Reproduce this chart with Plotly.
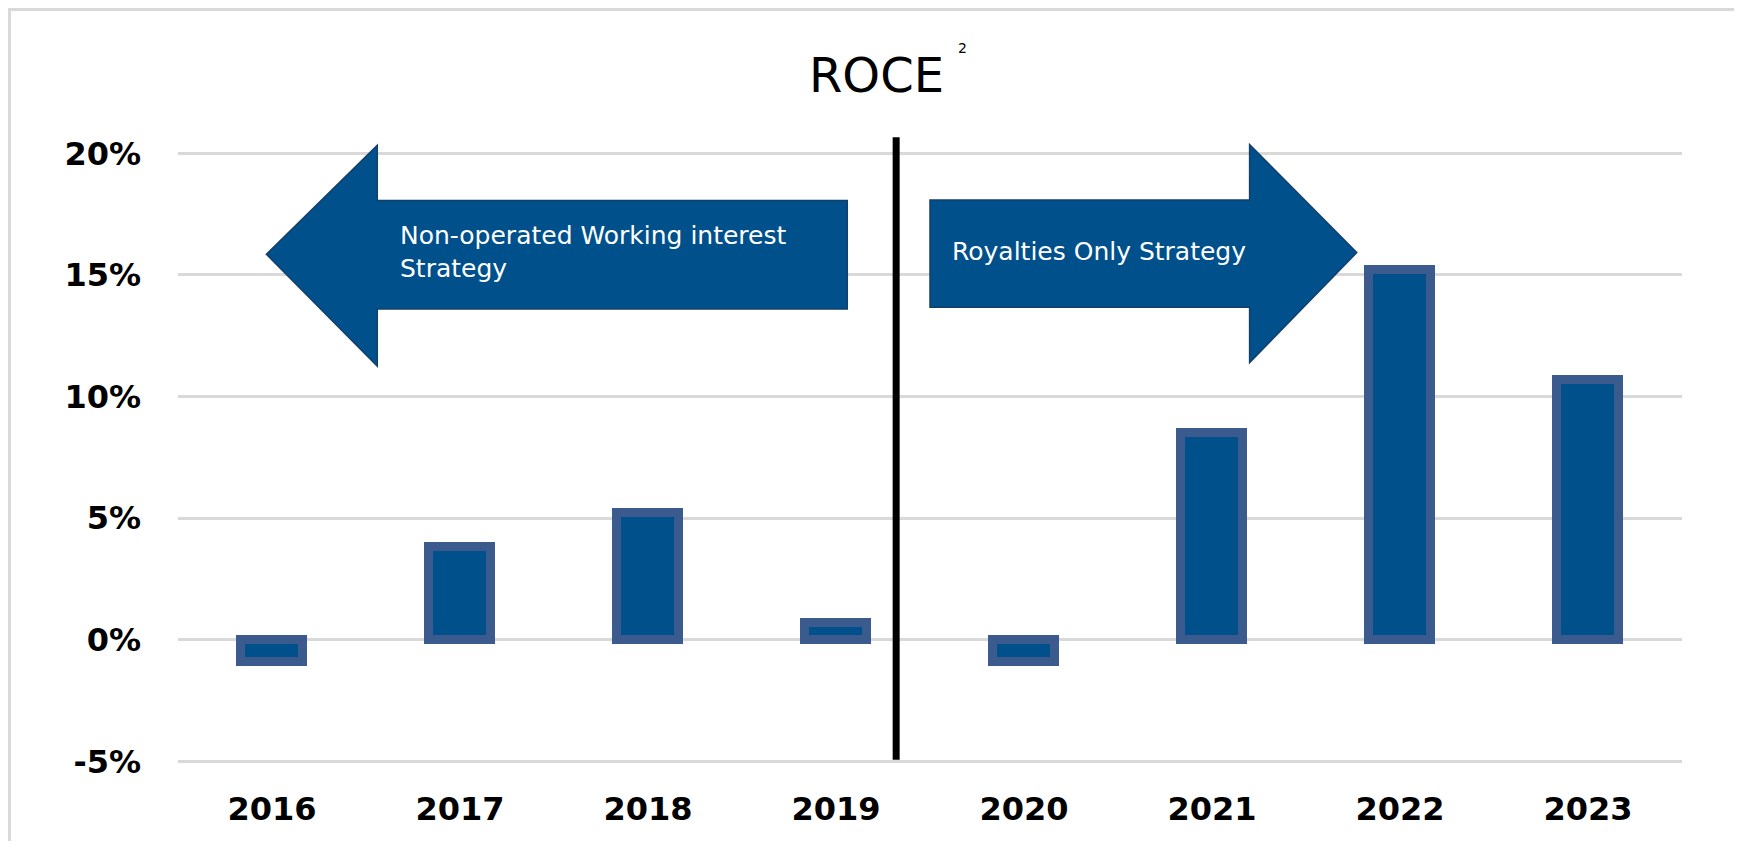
import plotly.graph_objects as go

years = ["2016", "2017", "2018", "2019", "2020", "2021", "2022", "2023"]
roce = [-0.9, 3.8, 5.2, 0.7, -0.9, 8.5, 15.2, 10.7]
y_ticks = [-5, 0, 5, 10, 15, 20]
y_labels = ["-5%", "0%", "5%", "10%", "15%", "20%"]
left_note = "Non-operated Working interest<br>Strategy"
right_note = "Royalties Only Strategy"

# the page body has an 8px margin, so keep the figure inside the window
W, H = 1726, 833
OFF = 8
ML, MR, MT, MB = 170, 52, 121, 77
BLUE = "#00508C"


def px_x(px):
    # page pixel -> paper coordinate
    return (px - OFF - ML) / (W - ML - MR)


def px_y(py):
    return (H + OFF - MB - py) / (H - MT - MB)


fig = go.Figure()
fig.add_trace(go.Bar(
    x=years, y=roce, width=0.325,
    marker=dict(color=BLUE, line=dict(color="#3B5A8E", width=9)),
    showlegend=False, hoverinfo="x+y",
))

# arrows (x in category index, y in %)
left_arrow = "M -0.03 15.85 L 0.56 20.33 L 0.56 18.06 L 3.06 18.06 L 3.06 13.6 L 0.56 13.6 L 0.56 11.25 Z"
right_arrow = "M 3.5 18.08 L 5.2 18.08 L 5.2 20.36 L 5.77 15.92 L 5.2 11.4 L 5.2 13.67 L 3.5 13.67 Z"
for p in (left_arrow, right_arrow):
    fig.add_shape(type="path", path=p, xref="x", yref="y", fillcolor=BLUE,
                  line=dict(color="#133F6B", width=1.5), layer="above")

# divider between the two strategies
fig.add_shape(type="line", xref="x", yref="y", x0=3.32, x1=3.32, y0=-4.93, y1=20.66,
              line=dict(color="black", width=7), layer="above")

# frame
fig.add_shape(type="line", xref="paper", yref="paper", x0=px_x(7), x1=px_x(1760), y0=px_y(9), y1=px_y(9),
              line=dict(color="#D9D9D9", width=4))
fig.add_shape(type="line", xref="paper", yref="paper", x0=px_x(9), x1=px_x(9), y0=px_y(7), y1=px_y(870),
              line=dict(color="#D9D9D9", width=4))

fig.add_annotation(x=0.67, y=15.95, xref="x", yref="y", text=left_note, showarrow=False,
                   xanchor="left", yanchor="middle", align="left",
                   font=dict(family="DejaVu Sans", size=25, color="white"))
fig.add_annotation(x=3.606, y=15.97, xref="x", yref="y", text=right_note, showarrow=False,
                   xanchor="left", yanchor="middle", align="left",
                   font=dict(family="DejaVu Sans", size=25, color="white"))

fig.add_annotation(x=px_x(876), y=px_y(75), xref="paper", yref="paper", text="ROCE",
                   showarrow=False, xanchor="center", yanchor="middle",
                   font=dict(family="DejaVu Sans", size=48, color="black"))
fig.add_annotation(x=px_x(962), y=px_y(48), xref="paper", yref="paper", text="2",
                   showarrow=False, xanchor="center", yanchor="middle",
                   font=dict(family="DejaVu Sans", size=14, color="black"))

fig.update_layout(
    width=W, height=H,
    margin=dict(l=ML, r=MR, t=MT, b=MB),
    paper_bgcolor="white", plot_bgcolor="white",
    bargap=0,
)
fig.update_xaxes(type="category", range=[-0.5, 7.5], showgrid=False, showline=False,
                 ticks="", ticklabelstandoff=23,
                 tickfont=dict(family="DejaVu Sans", size=32, color="black", weight="bold"))
fig.update_yaxes(range=[-5.1, 21], tickvals=y_ticks, ticktext=y_labels, showgrid=True,
                 gridcolor="#D9D9D9", gridwidth=3, zeroline=False, showline=False,
                 ticks="", ticklabelstandoff=36,
                 tickfont=dict(family="DejaVu Sans", size=32, color="black", weight="bold"))

fig.write_html("out.html")
